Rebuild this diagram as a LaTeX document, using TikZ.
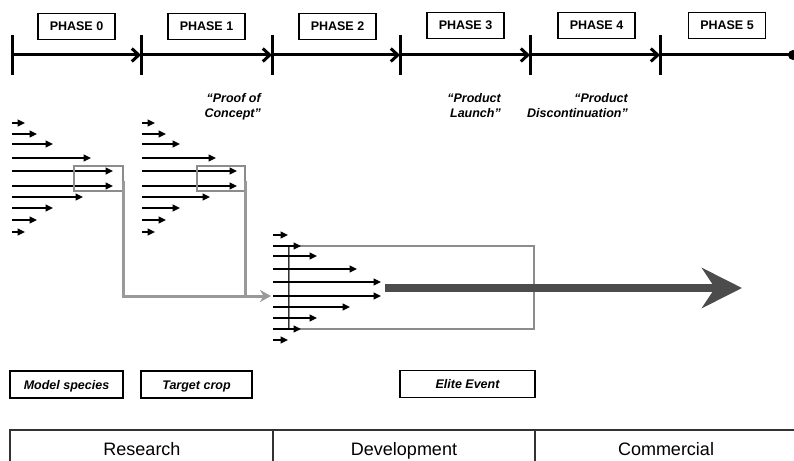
\documentclass[tikz,border=0pt]{standalone}
\usepackage{fontspec}
\setmainfont{Liberation Sans}
\usetikzlibrary{arrows.meta}
\begin{document}
\begin{tikzpicture}[x=1pt,y=-1pt,
  phasebox/.style={draw, line width=1.3pt, minimum width=77pt, minimum height=26pt, inner sep=0pt, text height=9pt, text depth=0pt, font=\fontsize{12.5}{15}\selectfont\bfseries},
  tagbox/.style={draw, line width=1.3pt, minimum height=27pt, inner sep=0pt, text height=9.5pt, text depth=0pt, font=\fontsize{12.5}{15}\selectfont\bfseries\itshape},
  quote/.style={align=right, anchor=north east, inner sep=0pt, font=\fontsize{12.5}{15.5}\selectfont\bfseries\itshape},
  tick/.style={line width=3pt},
  tlarrow/.style={line width=3pt, -{Straight Barb[length=7pt,width=13pt]}},
  fan/.style={line width=1.6pt, -{Triangle[length=7.5pt,width=7pt]}},
  zoombox/.style={draw=black!45, line width=1.2pt, inner sep=0pt},
  link/.style={draw=black!40, line width=3pt},
  bigarrow/.style={draw=black!70, line width=8pt, -{Stealth[length=40pt,width=40pt,inset=13pt]}},
  bar/.style={line width=1.3pt, draw=black!80},
  barlabel/.style={anchor=base, inner sep=0pt, font=\fontsize{18}{20}\selectfont}
]
\useasboundingbox (0,0) rectangle (794,460);

% ---------- timeline ----------
\foreach \n/\x in {0/12,1/141,2/272,3/400,4/530,5/660}{
  \coordinate (t\n) at (\x,55);
  \draw[tick] (\x,35) -- (\x,75);
}
\coordinate (tend) at (793,55);
\draw[tlarrow] (t0) -- (t1);
\draw[tlarrow] (t1) -- (t2);
\draw[tlarrow] (t2) -- (t3);
\draw[tlarrow] (t3) -- (t4);
\draw[tlarrow] (t4) -- (t5);
\draw[tick] (t5) -- (tend);
\fill (tend) circle (5pt);

% ---------- phase boxes ----------
\node[phasebox] (p0) at (76.5,26.5) {PHASE 0};
\node[phasebox] (p1) at (206.5,26.5) {PHASE 1};
\node[phasebox] (p2) at (337.5,26.5) {PHASE 2};
\node[phasebox] (p3) at (465.5,25.5) {PHASE 3};
\node[phasebox] (p4) at (596.5,25.5) {PHASE 4};
\node[phasebox] (p5) at (727,25.5) {PHASE 5};

% ---------- milestone quotes ----------
\node[quote] (q1) at (261,93) {“Proof of\\Concept”};
\node[quote] (q2) at (501,93) {“Product\\Launch”};
\node[quote] (q3) at (628,93) {“Product\\Discontinuation”};

% ---------- fan 1 ----------
\foreach \y/\t in {123/25,134/37,144/53,158/91,171/113,186/113,197/83,208/53,220/37,232/25}{
  \draw[fan] (12,\y) -- (\t,\y);
}
\node[zoombox, minimum width=49pt, minimum height=25pt] (z1) at (98.5,178.5) {};

% ---------- fan 2 ----------
\foreach \y/\t in {123/155,134/166,144/180,158/216,171/237,186/237,197/210,208/180,220/166,232/155}{
  \draw[fan] (142,\y) -- (\t,\y);
}
\node[zoombox, minimum width=48pt, minimum height=25pt] (z2) at (221,178.5) {};

% ---------- elite event box and fan 3 ----------
\node[zoombox, minimum width=245pt, minimum height=83pt] (ebig) at (411.5,287.5) {};
\draw[line width=1.3pt, black!80] (ebig.north west) -- (ebig.south west);
\foreach \y/\t in {235/288,246/301,256/317,269/357,282/381,296/381,307/350,318/317,329/301,340/288}{
  \draw[fan] (273,\y) -- (\t,\y);
}

% ---------- gray links ----------
\coordinate (entry) at (271,296);
\coordinate (z1out) at ([yshift=-2pt]z1.east);
\coordinate (z2out) at ([yshift=-2pt]z2.east);
\draw[link, -{Stealth[length=11pt,width=12pt]}] (z1out) |- (entry);
\draw[link] (z2out) -- (z2out |- entry);

% ---------- big arrow ----------
\coordinate (bstart) at (385,288);
\coordinate (bend) at (742,288);
\draw[bigarrow] (bstart) -- (bend);

% ---------- tags ----------
\node[tagbox, minimum width=113pt] (m1) at (66.5,384.5) {Model species};
\node[tagbox, minimum width=111pt] (m2) at (196.5,384.5) {Target crop};
\node[tagbox, minimum width=135pt] (m3) at (467.5,384) {Elite Event};

% ---------- bottom bar ----------
\draw[bar] (10,462) -- (10,430) -- (796,430);
\draw[bar] (273,430) -- (273,462);
\draw[bar] (535,430) -- (535,462);
\node[barlabel] (r1) at (142,455) {Research};
\node[barlabel] (r2) at (404,455) {Development};
\node[barlabel] (r3) at (666,455) {Commercial};
\end{tikzpicture}
\end{document}
